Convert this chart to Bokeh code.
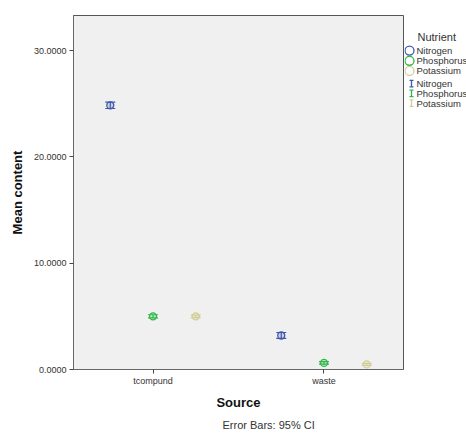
from bokeh.plotting import figure
from bokeh.layouts import row
from bokeh.models import FactorRange, Range1d, Whisker, ColumnDataSource, FixedTicker, NumeralTickFormatter, Title, TeeHead
from bokeh.transform import dodge
from bokeh.core.properties import value
from bokeh.embed import file_html
from bokeh.resources import INLINE

sources = ["tcompund", "waste"]
nutrients = ["Nitrogen", "Phosphorus", "Potassium"]
colors = ["#3E58AC", "#2EB848", "#D3CE97"]
offsets = [-0.25, 0.0, 0.25]

nitrogen_mean = [24.85, 3.2]
nitrogen_ci = [0.30, 0.28]
phosphorus_mean = [5.0, 0.62]
phosphorus_ci = [0.15, 0.12]
potassium_mean = [5.0, 0.48]
potassium_ci = [0.12, 0.10]

means = [nitrogen_mean, phosphorus_mean, potassium_mean]
cis = [nitrogen_ci, phosphorus_ci, potassium_ci]
y_ticks = [0, 10, 20, 30]

FONT = "Liberation Sans"

p = figure(width=404, height=434, x_range=FactorRange(*sources, range_padding=-0.035),
           y_range=Range1d(0, 33.3), output_backend="svg", toolbar_location=None,
           min_border_left=73, min_border_top=15, min_border_bottom=65, min_border_right=1,
           background_fill_color="#F0F0F0", border_fill_color="white",
           outline_line_color="#555555", outline_line_width=1)
p.xgrid.visible = False
p.ygrid.visible = False

for name, col, off, m, c in zip(nutrients, colors, offsets, means, cis):
    src = ColumnDataSource(dict(src=sources, mean=m,
                                lo=[a - b for a, b in zip(m, c)],
                                hi=[a + b for a, b in zip(m, c)]))
    w = Whisker(source=src, base=dodge("src", off, range=p.x_range), lower="lo", upper="hi",
                line_color=col, line_width=1.2,
                upper_head=TeeHead(size=10, line_color=col, line_width=1.2),
                lower_head=TeeHead(size=10, line_color=col, line_width=1.2))
    p.add_layout(w)
    p.scatter(x=dodge("src", off, range=p.x_range), y="mean", source=src, size=7,
              line_color=col, fill_color=col, fill_alpha=0.2, line_width=1.3)

p.yaxis.ticker = FixedTicker(ticks=y_ticks)
p.yaxis.formatter = NumeralTickFormatter(format="0.0000")
for ax in (p.xaxis, p.yaxis):
    ax.minor_tick_line_color = None
    ax.major_tick_in = 0
    ax.major_tick_out = 4
    ax.major_label_standoff = 2
    ax.axis_label_standoff = 6
    ax.axis_line_color = "#666666"
    ax.major_tick_line_color = "#444444"
    ax.major_label_text_font = FONT
    ax.major_label_text_font_size = "9px"
    ax.major_label_text_color = "#333333"
    ax.axis_label_text_font = FONT
    ax.axis_label_text_font_style = "bold"
    ax.axis_label_text_font_size = "13px"
    ax.axis_label_text_color = "#111111"
p.yaxis.major_label_standoff = 3
p.xaxis.axis_label_standoff = 6
p.yaxis.axis_label = "Mean content"
p.xaxis.axis_label = "Source"

p.add_layout(Title(text="Error Bars: 95% CI", align="left", offset=149, standoff=8,
                   text_font=FONT, text_font_size="11px", text_font_style="normal",
                   text_color="#333333"), "below")

# legend panel
leg = figure(width=62, height=434, x_range=Range1d(0, 62), y_range=Range1d(434, 0),
             output_backend="svg", toolbar_location=None, min_border=0,
             x_axis_location=None, y_axis_location=None, outline_line_color=None,
             background_fill_color="white", border_fill_color="white")
leg.xgrid.visible = False
leg.ygrid.visible = False

n = len(nutrients)
cy = [43 + 12.5 * i for i in range(n)]
by = [83.5 + 12 * i for i in range(n)]
leg.text(x=[13], y=[26], text=["Nutrient"], text_baseline="middle", text_font=value(FONT),
         text_font_size="11px", text_color="#333333")
leg.scatter(x=[5] * n, y=cy, size=9, line_color=colors, fill_color=None, line_width=1.3)
leg.text(x=[12] * n, y=cy, text=nutrients, text_baseline="middle", text_font=value(FONT),
         text_font_size="9.5px", text_color="#333333")
leg.segment(x0=[7] * n, x1=[7] * n, y0=[y - 4 for y in by], y1=[y + 4 for y in by],
            line_color=colors, line_width=1.3)
leg.segment(x0=[5] * n, x1=[9] * n, y0=[y - 4 for y in by], y1=[y - 4 for y in by],
            line_color=colors, line_width=1.3)
leg.segment(x0=[5] * n, x1=[9] * n, y0=[y + 4 for y in by], y1=[y + 4 for y in by],
            line_color=colors, line_width=1.3)
leg.text(x=[12] * n, y=by, text=nutrients, text_baseline="middle", text_font=value(FONT),
         text_font_size="9.5px", text_color="#333333")

layout = row(p, leg)
open("out.html", "w").write(file_html(layout, INLINE))
